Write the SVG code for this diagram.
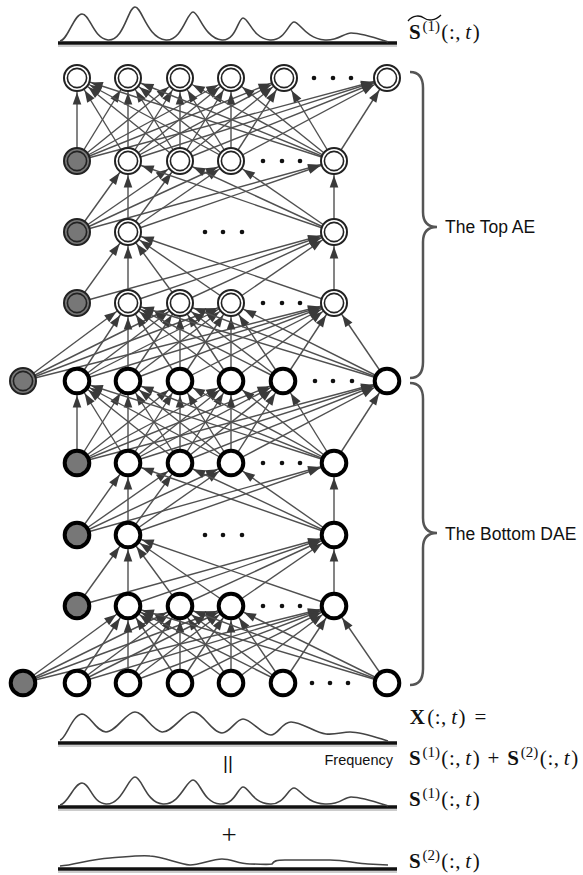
<svg xmlns="http://www.w3.org/2000/svg" width="583" height="875" viewBox="0 0 583 875">
<style>
.c line{stroke:#505050;stroke-width:1.4;marker-end:url(#ah)}
.m{font-family:"Liberation Serif","Times New Roman",serif;font-size:21px;fill:#111;text-anchor:middle}
.sans{font-family:"Liberation Sans",Arial,sans-serif;fill:#111}
.b{font-weight:bold}
.i{font-style:italic}
.sp{font-size:15px}
.spec{fill:none;stroke:#444;stroke-width:1.6}
.base{stroke:#111;stroke-width:3.5}
.shadow{stroke:#ccc;stroke-width:2}
.brace{fill:none;stroke:#555;stroke-width:2.5}
.dot{fill:#111}
</style>
<defs>
<marker id="ah" markerUnits="userSpaceOnUse" viewBox="-30 -6 30 12" markerWidth="30" markerHeight="12" refX="0" refY="0" orient="auto"><path d="M-14.5,0 L-26.5,-4.3 L-26.5,4.3 Z" fill="#3a3a3a"/></marker>
<g id="dbl"><circle r="13" fill="#fff" stroke="#222" stroke-width="2"/><circle r="9.6" fill="none" stroke="#222" stroke-width="1.6"/></g>
<g id="dblg"><circle r="13" fill="#777" stroke="#222" stroke-width="2"/><circle r="9.6" fill="none" stroke="#222" stroke-width="1.6"/></g>
<g id="thk"><circle r="12.3" fill="#fff" stroke="#000" stroke-width="4"/></g>
<g id="thkg"><circle r="12.3" fill="#777" stroke="#000" stroke-width="4"/></g>
</defs>
<rect width="583" height="875" fill="#fff"/>

<g id="spectra">
<line class="shadow" x1="58" y1="46" x2="397" y2="46"/>
<line class="base" x1="58" y1="43" x2="397" y2="43"/>
<path class="spec" d="M60,41 C68,40 74,14 82,14 C90,14 93,38 108,40 C124,41 128,7 135,7 C142,7 147,38 166,40 C182,41 187,12 193,12 C199,12 204,38 222,40 C236,41 238,18 243,18 C249,18 252,38 270,40 C285,41 289,22 294,22 C300,22 305,38 325,40 C338,41 344,33 351,33 C362,33 376,38 388,42"/>
<line class="shadow" x1="58" y1="746" x2="397" y2="746"/>
<line class="base" x1="58" y1="743" x2="397" y2="743"/>
<path class="spec" d="M60,740 C66,739 72,715 82,714 C90,714 95,731 106,732 C116,732 126,712 135,712 C144,712 152,731 162,732 C172,733 184,712 193,712 C203,712 212,733 222,733 C230,733 236,719 243,719 C251,719 262,735 271,735 C278,735 282,722 291,722 C302,722 315,733 326,734 C336,735 342,732 350,732 C362,732 378,738 388,741"/>
<line class="shadow" x1="58" y1="810" x2="397" y2="810"/>
<line class="base" x1="58" y1="807" x2="397" y2="807"/>
<path class="spec" d="M60,805 C68,804 74,783 82,783 C90,783 92,803 106,804 C122,805 128,777 135,777 C142,777 146,803 163,804 C180,805 186,780 193,780 C200,780 203,803 220,804 C235,805 238,787 243,787 C249,787 252,803 270,804 C284,805 288,788 294,788 C300,788 305,803 325,804 C340,805 344,797 351,797 C362,797 376,802 388,806"/>
<line class="shadow" x1="58" y1="872" x2="397" y2="872"/>
<line class="base" x1="58" y1="869" x2="397" y2="869"/>
<path class="spec" d="M60,866 C75,865 90,859 110,858 C125,857 140,855 150,856 C165,857 178,864 190,865 C200,865 212,859 222,859 C232,859 238,864 250,864 C260,864 268,865 272,864 C274,861 276,860 285,860 L330,860 C345,860 358,864 368,864 L388,865"/>
</g>

<g id="labels">
<path d="M408,21 C413,15 420,15 424,18 C428,21 435,21 441,15" fill="none" stroke="#111" stroke-width="1.3"/>
<text class="m"><tspan class="b" x="414.8" y="39">S</tspan><tspan class="sp" x="431.2" y="31">(1)</tspan><tspan x="444.85" y="39">(</tspan><tspan x="451.95" y="39">:</tspan><tspan x="457.85" y="39">,</tspan><tspan class="i" x="468.25" y="39">t</tspan><tspan x="476.25" y="39">)</tspan></text>
<text class="m"><tspan class="b" x="417.25" y="724">X</tspan><tspan x="430.65" y="724">(</tspan><tspan x="437.75" y="724">:</tspan><tspan x="443.65" y="724">,</tspan><tspan class="i" x="454.05" y="724">t</tspan><tspan x="462.05" y="724">)</tspan><tspan x="480.4" y="724">=</tspan></text>
<text class="m"><tspan class="b" x="414.8" y="765">S</tspan><tspan class="sp" x="431.2" y="757">(1)</tspan><tspan x="444.85" y="765">(</tspan><tspan x="451.95" y="765">:</tspan><tspan x="457.85" y="765">,</tspan><tspan class="i" x="468.25" y="765">t</tspan><tspan x="476.25" y="765">)</tspan><tspan x="493.4" y="765">+</tspan><tspan class="b" x="513.2" y="765">S</tspan><tspan class="sp" x="529.6" y="757">(2)</tspan><tspan x="543.25" y="765">(</tspan><tspan x="550.35" y="765">:</tspan><tspan x="556.25" y="765">,</tspan><tspan class="i" x="566.65" y="765">t</tspan><tspan x="574.65" y="765">)</tspan></text>
<text class="m"><tspan class="b" x="414.8" y="806">S</tspan><tspan class="sp" x="431.2" y="798">(1)</tspan><tspan x="444.85" y="806">(</tspan><tspan x="451.95" y="806">:</tspan><tspan x="457.85" y="806">,</tspan><tspan class="i" x="468.25" y="806">t</tspan><tspan x="476.25" y="806">)</tspan></text>
<text class="m"><tspan class="b" x="414.8" y="868">S</tspan><tspan class="sp" x="431.2" y="860">(2)</tspan><tspan x="444.85" y="868">(</tspan><tspan x="451.95" y="868">:</tspan><tspan x="457.85" y="868">,</tspan><tspan class="i" x="468.25" y="868">t</tspan><tspan x="476.25" y="868">)</tspan></text>
<text class="sans" x="393" y="765" style="font-size:14.5px" text-anchor="end">Frequency</text>
<text class="sans" x="228" y="769" style="font-size:19px" text-anchor="middle" fill="#333">||</text>
<text class="m" x="229" y="844" style="font-size:27px">+</text>
<text class="sans" x="445" y="233" style="font-size:17.5px">The Top AE</text>
<text class="sans" x="445" y="540" style="font-size:17.5px">The Bottom DAE</text>
<path class="brace" d="M410,72 Q423,72 423,88 L423,212 Q423,227 437,227 Q423,227 423,242 L423,362 Q423,378 410,378"/>
<path class="brace" d="M410,383 Q423,383 423,399 L423,518 Q423,533 437,533 Q423,533 423,548 L423,669 Q423,685 410,685"/>
</g>

<g id="connectors" class="c">
<line x1="77" y1="161" x2="77" y2="78"/><line x1="77" y1="161" x2="128" y2="78"/><line x1="77" y1="161" x2="180" y2="78"/><line x1="77" y1="161" x2="231" y2="78"/><line x1="77" y1="161" x2="284" y2="78"/><line x1="77" y1="161" x2="387" y2="78"/>
<line x1="128" y1="161" x2="77" y2="78"/><line x1="128" y1="161" x2="128" y2="78"/><line x1="128" y1="161" x2="180" y2="78"/><line x1="128" y1="161" x2="231" y2="78"/><line x1="128" y1="161" x2="284" y2="78"/><line x1="128" y1="161" x2="387" y2="78"/>
<line x1="180" y1="161" x2="77" y2="78"/><line x1="180" y1="161" x2="128" y2="78"/><line x1="180" y1="161" x2="180" y2="78"/><line x1="180" y1="161" x2="231" y2="78"/><line x1="180" y1="161" x2="284" y2="78"/><line x1="180" y1="161" x2="387" y2="78"/>
<line x1="231" y1="161" x2="77" y2="78"/><line x1="231" y1="161" x2="128" y2="78"/><line x1="231" y1="161" x2="180" y2="78"/><line x1="231" y1="161" x2="231" y2="78"/><line x1="231" y1="161" x2="284" y2="78"/><line x1="231" y1="161" x2="387" y2="78"/>
<line x1="334" y1="161" x2="77" y2="78"/><line x1="334" y1="161" x2="128" y2="78"/><line x1="334" y1="161" x2="180" y2="78"/><line x1="334" y1="161" x2="231" y2="78"/><line x1="334" y1="161" x2="284" y2="78"/><line x1="334" y1="161" x2="387" y2="78"/>

<line x1="77" y1="232" x2="128" y2="161"/><line x1="77" y1="232" x2="180" y2="161"/><line x1="77" y1="232" x2="231" y2="161"/><line x1="77" y1="232" x2="334" y2="161"/>
<line x1="128" y1="232" x2="128" y2="161"/><line x1="128" y1="232" x2="180" y2="161"/><line x1="128" y1="232" x2="231" y2="161"/><line x1="128" y1="232" x2="334" y2="161"/>
<line x1="334" y1="232" x2="128" y2="161"/><line x1="334" y1="232" x2="180" y2="161"/><line x1="334" y1="232" x2="231" y2="161"/><line x1="334" y1="232" x2="334" y2="161"/>

<line x1="77" y1="303" x2="128" y2="232"/><line x1="77" y1="303" x2="334" y2="232"/>
<line x1="128" y1="303" x2="128" y2="232"/><line x1="128" y1="303" x2="334" y2="232"/>
<line x1="180" y1="303" x2="128" y2="232"/><line x1="180" y1="303" x2="334" y2="232"/>
<line x1="231" y1="303" x2="128" y2="232"/><line x1="231" y1="303" x2="334" y2="232"/>
<line x1="334" y1="303" x2="128" y2="232"/><line x1="334" y1="303" x2="334" y2="232"/>

<line x1="23" y1="381" x2="128" y2="303"/><line x1="23" y1="381" x2="180" y2="303"/><line x1="23" y1="381" x2="231" y2="303"/><line x1="23" y1="381" x2="334" y2="303"/>
<line x1="77" y1="381" x2="128" y2="303"/><line x1="77" y1="381" x2="180" y2="303"/><line x1="77" y1="381" x2="231" y2="303"/><line x1="77" y1="381" x2="334" y2="303"/>
<line x1="128" y1="381" x2="128" y2="303"/><line x1="128" y1="381" x2="180" y2="303"/><line x1="128" y1="381" x2="231" y2="303"/><line x1="128" y1="381" x2="334" y2="303"/>
<line x1="180" y1="381" x2="128" y2="303"/><line x1="180" y1="381" x2="180" y2="303"/><line x1="180" y1="381" x2="231" y2="303"/><line x1="180" y1="381" x2="334" y2="303"/>
<line x1="231" y1="381" x2="128" y2="303"/><line x1="231" y1="381" x2="180" y2="303"/><line x1="231" y1="381" x2="231" y2="303"/><line x1="231" y1="381" x2="334" y2="303"/>
<line x1="283" y1="381" x2="128" y2="303"/><line x1="283" y1="381" x2="180" y2="303"/><line x1="283" y1="381" x2="231" y2="303"/><line x1="283" y1="381" x2="334" y2="303"/>
<line x1="387" y1="381" x2="128" y2="303"/><line x1="387" y1="381" x2="180" y2="303"/><line x1="387" y1="381" x2="231" y2="303"/><line x1="387" y1="381" x2="334" y2="303"/>

<line x1="77" y1="463" x2="77" y2="381"/><line x1="77" y1="463" x2="128" y2="381"/><line x1="77" y1="463" x2="180" y2="381"/><line x1="77" y1="463" x2="231" y2="381"/><line x1="77" y1="463" x2="283" y2="381"/><line x1="77" y1="463" x2="387" y2="381"/>
<line x1="128" y1="463" x2="77" y2="381"/><line x1="128" y1="463" x2="128" y2="381"/><line x1="128" y1="463" x2="180" y2="381"/><line x1="128" y1="463" x2="231" y2="381"/><line x1="128" y1="463" x2="283" y2="381"/><line x1="128" y1="463" x2="387" y2="381"/>
<line x1="180" y1="463" x2="77" y2="381"/><line x1="180" y1="463" x2="128" y2="381"/><line x1="180" y1="463" x2="180" y2="381"/><line x1="180" y1="463" x2="231" y2="381"/><line x1="180" y1="463" x2="283" y2="381"/><line x1="180" y1="463" x2="387" y2="381"/>
<line x1="231" y1="463" x2="77" y2="381"/><line x1="231" y1="463" x2="128" y2="381"/><line x1="231" y1="463" x2="180" y2="381"/><line x1="231" y1="463" x2="231" y2="381"/><line x1="231" y1="463" x2="283" y2="381"/><line x1="231" y1="463" x2="387" y2="381"/>
<line x1="334" y1="463" x2="77" y2="381"/><line x1="334" y1="463" x2="128" y2="381"/><line x1="334" y1="463" x2="180" y2="381"/><line x1="334" y1="463" x2="231" y2="381"/><line x1="334" y1="463" x2="283" y2="381"/><line x1="334" y1="463" x2="387" y2="381"/>

<line x1="77" y1="535" x2="128" y2="463"/><line x1="77" y1="535" x2="180" y2="463"/><line x1="77" y1="535" x2="231" y2="463"/><line x1="77" y1="535" x2="334" y2="463"/>
<line x1="128" y1="535" x2="128" y2="463"/><line x1="128" y1="535" x2="180" y2="463"/><line x1="128" y1="535" x2="231" y2="463"/><line x1="128" y1="535" x2="334" y2="463"/>
<line x1="334" y1="535" x2="128" y2="463"/><line x1="334" y1="535" x2="180" y2="463"/><line x1="334" y1="535" x2="231" y2="463"/><line x1="334" y1="535" x2="334" y2="463"/>

<line x1="77" y1="606" x2="128" y2="535"/><line x1="77" y1="606" x2="334" y2="535"/>
<line x1="128" y1="606" x2="128" y2="535"/><line x1="128" y1="606" x2="334" y2="535"/>
<line x1="180" y1="606" x2="128" y2="535"/><line x1="180" y1="606" x2="334" y2="535"/>
<line x1="231" y1="606" x2="128" y2="535"/><line x1="231" y1="606" x2="334" y2="535"/>
<line x1="334" y1="606" x2="128" y2="535"/><line x1="334" y1="606" x2="334" y2="535"/>

<line x1="23" y1="683" x2="128" y2="606"/><line x1="23" y1="683" x2="180" y2="606"/><line x1="23" y1="683" x2="231" y2="606"/><line x1="23" y1="683" x2="334" y2="606"/>
<line x1="77" y1="683" x2="128" y2="606"/><line x1="77" y1="683" x2="180" y2="606"/><line x1="77" y1="683" x2="231" y2="606"/><line x1="77" y1="683" x2="334" y2="606"/>
<line x1="128" y1="683" x2="128" y2="606"/><line x1="128" y1="683" x2="180" y2="606"/><line x1="128" y1="683" x2="231" y2="606"/><line x1="128" y1="683" x2="334" y2="606"/>
<line x1="180" y1="683" x2="128" y2="606"/><line x1="180" y1="683" x2="180" y2="606"/><line x1="180" y1="683" x2="231" y2="606"/><line x1="180" y1="683" x2="334" y2="606"/>
<line x1="231" y1="683" x2="128" y2="606"/><line x1="231" y1="683" x2="180" y2="606"/><line x1="231" y1="683" x2="231" y2="606"/><line x1="231" y1="683" x2="334" y2="606"/>
<line x1="283" y1="683" x2="128" y2="606"/><line x1="283" y1="683" x2="180" y2="606"/><line x1="283" y1="683" x2="231" y2="606"/><line x1="283" y1="683" x2="334" y2="606"/>
<line x1="387" y1="683" x2="128" y2="606"/><line x1="387" y1="683" x2="180" y2="606"/><line x1="387" y1="683" x2="231" y2="606"/><line x1="387" y1="683" x2="334" y2="606"/>
</g>

<g id="ellipses">
<circle class="dot" cx="314" cy="78" r="2.3"/><circle class="dot" cx="333" cy="78" r="2.3"/><circle class="dot" cx="351" cy="78" r="2.3"/>
<circle class="dot" cx="263" cy="161" r="2.3"/><circle class="dot" cx="282" cy="161" r="2.3"/><circle class="dot" cx="300" cy="161" r="2.3"/>
<circle class="dot" cx="205" cy="232" r="2.3"/><circle class="dot" cx="223" cy="232" r="2.3"/><circle class="dot" cx="242" cy="232" r="2.3"/>
<circle class="dot" cx="263" cy="303" r="2.3"/><circle class="dot" cx="282" cy="303" r="2.3"/><circle class="dot" cx="300" cy="303" r="2.3"/>
<circle class="dot" cx="315" cy="381" r="2.3"/><circle class="dot" cx="333" cy="381" r="2.3"/><circle class="dot" cx="352" cy="381" r="2.3"/>
<circle class="dot" cx="263" cy="463" r="2.3"/><circle class="dot" cx="282" cy="463" r="2.3"/><circle class="dot" cx="300" cy="463" r="2.3"/>
<circle class="dot" cx="205" cy="535" r="2.3"/><circle class="dot" cx="223" cy="535" r="2.3"/><circle class="dot" cx="242" cy="535" r="2.3"/>
<circle class="dot" cx="263" cy="606" r="2.3"/><circle class="dot" cx="282" cy="606" r="2.3"/><circle class="dot" cx="300" cy="606" r="2.3"/>
<circle class="dot" cx="312" cy="683" r="2.3"/><circle class="dot" cx="330" cy="683" r="2.3"/><circle class="dot" cx="348" cy="683" r="2.3"/>
</g>

<g id="n1_1"><use href="#dbl" x="77" y="78"/></g>
<g id="n1_2"><use href="#dbl" x="128" y="78"/></g>
<g id="n1_3"><use href="#dbl" x="180" y="78"/></g>
<g id="n1_4"><use href="#dbl" x="231" y="78"/></g>
<g id="n1_5"><use href="#dbl" x="284" y="78"/></g>
<g id="n1_6"><use href="#dbl" x="387" y="78"/></g>

<g id="n2_b"><use href="#dblg" x="77" y="161"/></g>
<g id="n2_1"><use href="#dbl" x="128" y="161"/></g>
<g id="n2_2"><use href="#dbl" x="180" y="161"/></g>
<g id="n2_3"><use href="#dbl" x="231" y="161"/></g>
<g id="n2_4"><use href="#dbl" x="334" y="161"/></g>

<g id="n3_b"><use href="#dblg" x="77" y="232"/></g>
<g id="n3_1"><use href="#dbl" x="128" y="232"/></g>
<g id="n3_2"><use href="#dbl" x="334" y="232"/></g>

<g id="n4_b"><use href="#dblg" x="77" y="303"/></g>
<g id="n4_1"><use href="#dbl" x="128" y="303"/></g>
<g id="n4_2"><use href="#dbl" x="180" y="303"/></g>
<g id="n4_3"><use href="#dbl" x="231" y="303"/></g>
<g id="n4_4"><use href="#dbl" x="334" y="303"/></g>

<g id="n5_b"><use href="#dblg" x="23" y="381"/></g>
<g id="n5_1"><use href="#thk" x="77" y="381"/></g>
<g id="n5_2"><use href="#thk" x="128" y="381"/></g>
<g id="n5_3"><use href="#thk" x="180" y="381"/></g>
<g id="n5_4"><use href="#thk" x="231" y="381"/></g>
<g id="n5_5"><use href="#thk" x="283" y="381"/></g>
<g id="n5_6"><use href="#thk" x="387" y="381"/></g>

<g id="n6_b"><use href="#thkg" x="77" y="463"/></g>
<g id="n6_1"><use href="#thk" x="128" y="463"/></g>
<g id="n6_2"><use href="#thk" x="180" y="463"/></g>
<g id="n6_3"><use href="#thk" x="231" y="463"/></g>
<g id="n6_4"><use href="#thk" x="334" y="463"/></g>

<g id="n7_b"><use href="#thkg" x="77" y="535"/></g>
<g id="n7_1"><use href="#thk" x="128" y="535"/></g>
<g id="n7_2"><use href="#thk" x="334" y="535"/></g>

<g id="n8_b"><use href="#thkg" x="77" y="606"/></g>
<g id="n8_1"><use href="#thk" x="128" y="606"/></g>
<g id="n8_2"><use href="#thk" x="180" y="606"/></g>
<g id="n8_3"><use href="#thk" x="231" y="606"/></g>
<g id="n8_4"><use href="#thk" x="334" y="606"/></g>

<g id="n9_b"><use href="#thkg" x="23" y="683"/></g>
<g id="n9_1"><use href="#thk" x="77" y="683"/></g>
<g id="n9_2"><use href="#thk" x="128" y="683"/></g>
<g id="n9_3"><use href="#thk" x="180" y="683"/></g>
<g id="n9_4"><use href="#thk" x="231" y="683"/></g>
<g id="n9_5"><use href="#thk" x="283" y="683"/></g>
<g id="n9_6"><use href="#thk" x="387" y="683"/></g>
</svg>
